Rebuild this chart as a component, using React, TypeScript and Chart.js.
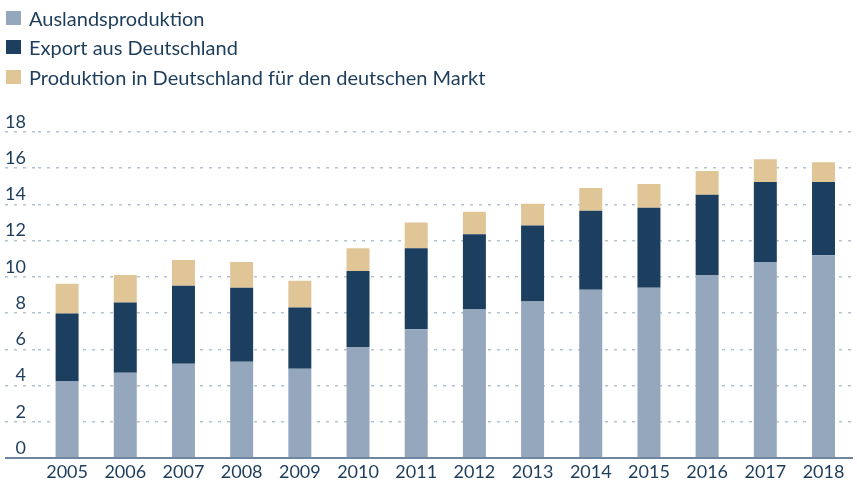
import React, { useEffect, useRef } from 'react';
import { Chart, registerables } from 'chart.js';

Chart.register(...registerables);

const years = ['2005', '2006', '2007', '2008', '2009', '2010', '2011', '2012', '2013', '2014', '2015', '2016', '2017', '2018'];
const auslandsproduktion = [4.22, 4.71, 5.2, 5.31, 4.93, 6.13, 7.11, 8.2, 8.64, 9.29, 9.4, 10.11, 10.82, 11.2];
const exportAusDeutschland = [3.76, 3.87, 4.31, 4.09, 3.38, 4.2, 4.47, 4.15, 4.2, 4.36, 4.42, 4.42, 4.42, 4.04];
const produktionDeutschland = [1.64, 1.53, 1.42, 1.42, 1.47, 1.25, 1.42, 1.25, 1.2, 1.26, 1.31, 1.31, 1.25, 1.09];

const seriesLabels = ['Auslandsproduktion', 'Export aus Deutschland', 'Produktion in Deutschland für den deutschen Markt'];
const seriesColors = ['#95a7bd', '#1c3f5f', '#e0c596'];

const yMin = 0;
const yMax = 18;
const yStep = 2;

const TEXT = '#1d3d5c';
const GRID = '#b4c1cf';
const AXIS = '#6e86a0';
const FONT = 'Lato';

// HTML legend built from Chart.js's own legend items (official "HTML legend" pattern)
const htmlLegendPlugin = {
  id: 'htmlLegend',
  afterUpdate(chart: any, _args: any, options: any) {
    const container: HTMLElement | null = options.container;
    if (!container) return;
    while (container.firstChild) container.removeChild(container.firstChild);
    const items = chart.options.plugins.legend.labels.generateLabels(chart);
    items.forEach((item: any) => {
      const row = document.createElement('div');
      row.style.display = 'flex';
      row.style.alignItems = 'center';
      row.style.height = '29.4px';
      const box = document.createElement('span');
      box.style.display = 'inline-block';
      box.style.width = '15px';
      box.style.height = '14px';
      box.style.marginLeft = '6px';
      box.style.marginRight = '8px';
      box.style.background = item.fillStyle;
      const text = document.createElement('span');
      text.textContent = item.text;
      text.style.color = TEXT;
      text.style.fontFamily = FONT;
      text.style.fontSize = '20px';
      text.style.lineHeight = '1';
      text.style.whiteSpace = 'nowrap';
      row.appendChild(box);
      row.appendChild(text);
      container.appendChild(row);
    });
  },
};

export default function App() {
  const ref = useRef<HTMLCanvasElement>(null);
  const legendRef = useRef<HTMLDivElement>(null);

  useEffect(() => {
    const isZero = (ctx: any) => ctx && ctx.tick && ctx.tick.value === 0;
    const chart = new Chart(ref.current as HTMLCanvasElement, {
      type: 'bar',
      data: {
        labels: years,
        datasets: [
          { label: seriesLabels[0], data: auslandsproduktion, backgroundColor: seriesColors[0] },
          { label: seriesLabels[1], data: exportAusDeutschland, backgroundColor: seriesColors[1] },
          { label: seriesLabels[2], data: produktionDeutschland, backgroundColor: seriesColors[2] },
        ],
      },
      plugins: [htmlLegendPlugin],
      options: {
        animation: false,
        responsive: true,
        maintainAspectRatio: false,
        devicePixelRatio: 1,
        datasets: { bar: { barPercentage: 0.395, categoryPercentage: 1 } },
        layout: { padding: { left: 0, top: 132, right: 4.4, bottom: 0 } },
        plugins: {
          legend: { display: false },
          htmlLegend: { container: legendRef.current },
          tooltip: { enabled: false },
        },
        scales: {
          x: {
            stacked: true,
            grid: { display: false, drawTicks: false },
            border: { display: true, color: AXIS, width: 2 },
            ticks: {
              color: TEXT,
              font: { family: FONT, size: 18, lineHeight: 1 },
              padding: 5,
              maxRotation: 0,
              autoSkip: false,
            },
          },
          y: {
            stacked: true,
            min: yMin,
            max: yMax,
            ticks: {
              stepSize: yStep,
              color: TEXT,
              font: { family: FONT, size: 18 },
              padding: -21,
              labelOffset: -10,
            },
            grid: {
              color: (ctx: any) => (isZero(ctx) ? AXIS : GRID),
              lineWidth: (ctx: any) => (isZero(ctx) ? 2 : 1.5),
              tickLength: 33,
              tickColor: (ctx: any) => (isZero(ctx) ? AXIS : GRID),
              tickWidth: (ctx: any) => (isZero(ctx) ? 2 : 1.5),
              tickBorderDash: (ctx: any) => (isZero(ctx) ? [] : [3, 6]),
            },
            border: {
              display: false,
              dash: (ctx: any) => (isZero(ctx) ? [] : [3, 6]),
            },
            afterFit: (scale: any) => {
              scale.width = 38;
            },
          },
        },
      } as any,
    });
    return () => chart.destroy();
  }, []);

  return (
    <div style={{ position: 'absolute', left: 0, top: 0, width: 857, height: 486 }}>
      <canvas ref={ref} />
      <div ref={legendRef} style={{ position: 'absolute', left: 0, top: 3.3, pointerEvents: 'none' }} />
    </div>
  );
}
